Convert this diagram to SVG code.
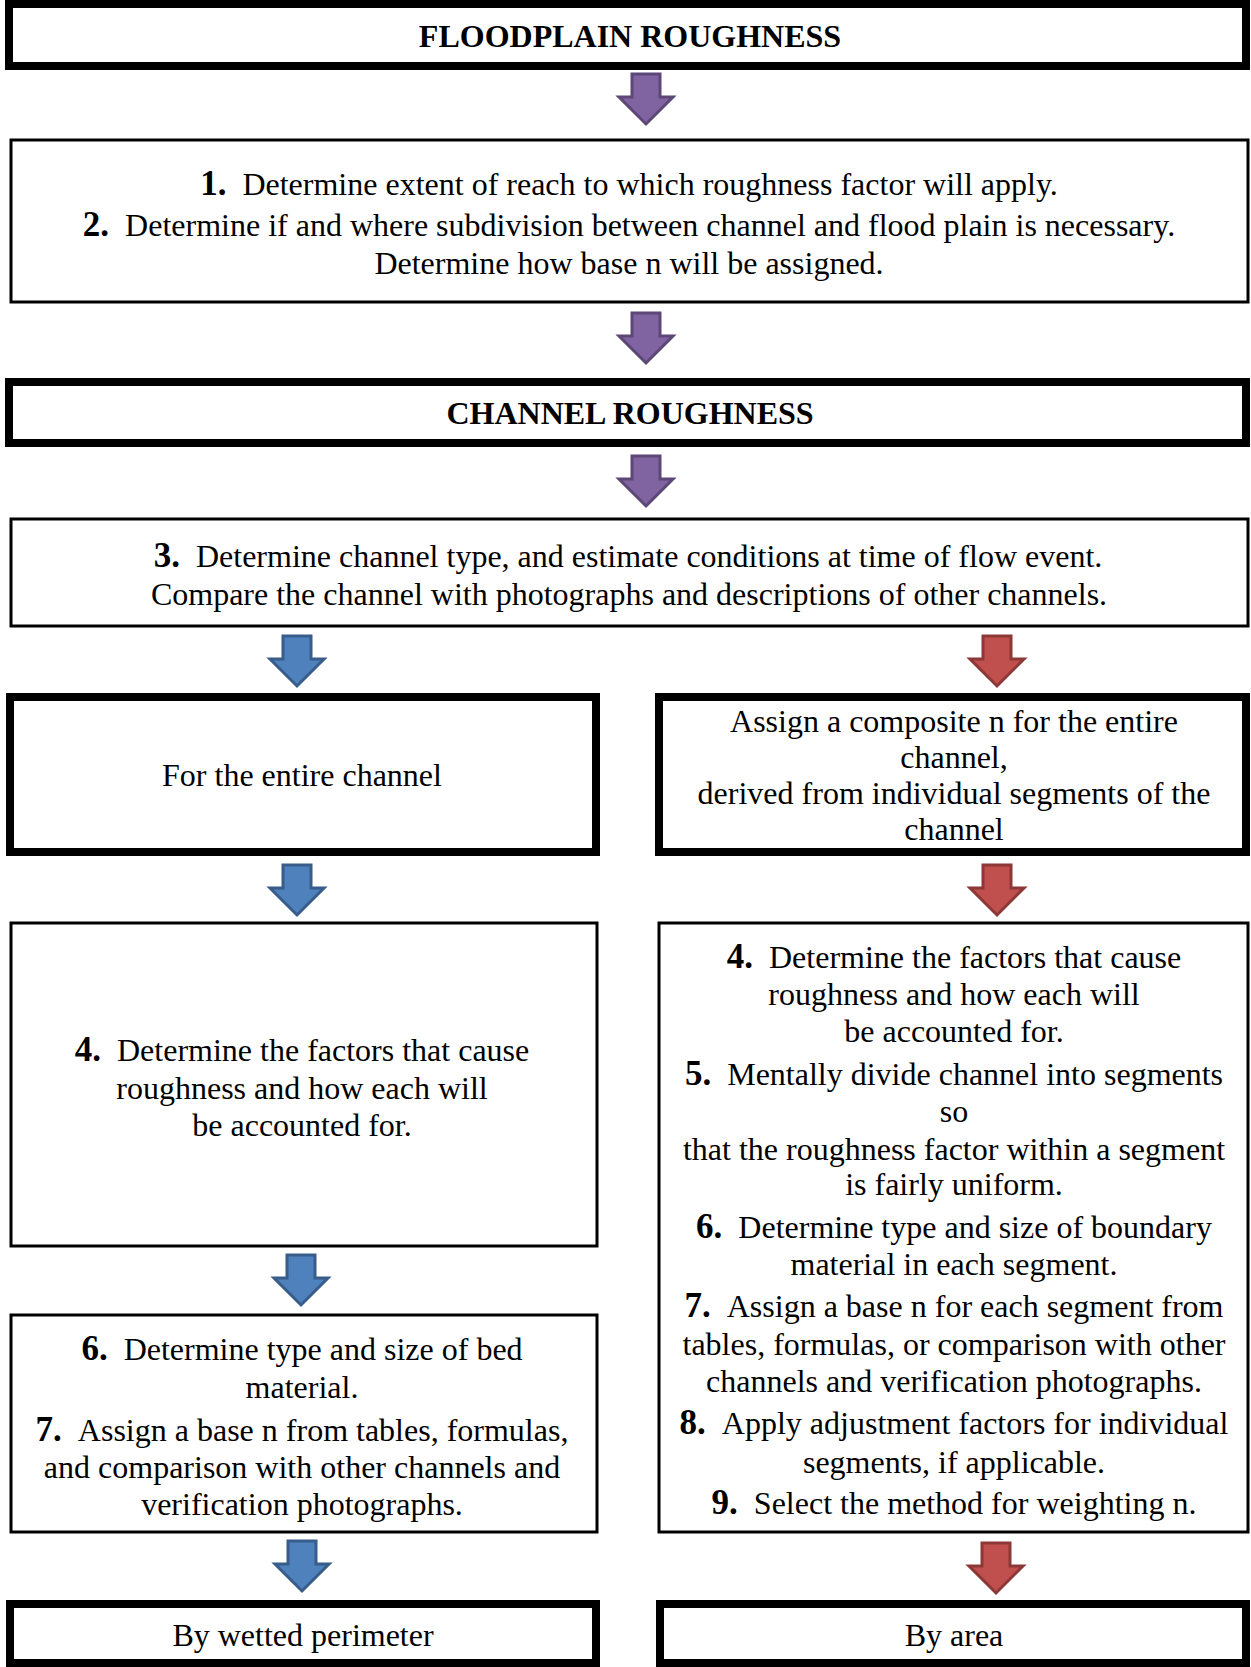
<svg xmlns="http://www.w3.org/2000/svg" width="1251" height="1667" viewBox="0 0 1251 1667">
<style>
  .thick { fill: #fff; stroke: #000; stroke-width: 8; }
  .thin { fill: #fff; stroke: #000; stroke-width: 3; }
  text { font-family: "Liberation Serif", "Times New Roman", serif; font-size: 32px; fill: #000; text-anchor: middle; }
  .hdr { font-weight: bold; }
  .n { font-weight: bold; font-size: 35px; }
  .purple { fill: #8064A2; stroke: #5C4776; stroke-width: 3; }
  .blue { fill: #4F81BD; stroke: #385D8A; stroke-width: 3; }
  .red { fill: #C0504D; stroke: #8C3836; stroke-width: 3; }
</style>
<defs>
  <path id="arr" d="M -14,0 L 14,0 L 14,23 L 27,23 L 0,50 L -27,23 L -14,23 Z"/>
</defs>
<rect width="1251" height="1667" fill="#fff"/>

<g id="connectors">
  <use href="#arr" class="purple" transform="translate(646,74)"/>
  <use href="#arr" class="purple" transform="translate(646,313)"/>
  <use href="#arr" class="purple" transform="translate(646,456)"/>
  <use href="#arr" class="blue" transform="translate(297,636)"/>
  <use href="#arr" class="red" transform="translate(997,636)"/>
  <use href="#arr" class="blue" transform="translate(297,865)"/>
  <use href="#arr" class="red" transform="translate(997,865)"/>
  <use href="#arr" class="blue" transform="translate(301,1255)"/>
  <use href="#arr" class="blue" transform="translate(302,1541)"/>
  <use href="#arr" class="red" transform="translate(996,1543)"/>
</g>

<g id="floodplain-roughness">
  <rect class="thick" x="9" y="4" width="1237" height="62"/>
  <text class="hdr" x="630" y="47">FLOODPLAIN ROUGHNESS</text>
</g>

<g id="steps-1-2">
  <rect class="thin" x="11" y="140" width="1237" height="162"/>
  <text x="629" y="195"><tspan class="n">1.</tspan><tspan dx="16">Determine extent of reach to which roughness factor will apply.</tspan></text>
  <text x="629" y="236"><tspan class="n">2.</tspan><tspan dx="16">Determine if and where subdivision between channel and flood plain is necessary.</tspan></text>
  <text x="629" y="274">Determine how base n will be assigned.</text>
</g>

<g id="channel-roughness">
  <rect class="thick" x="9" y="382" width="1237" height="61"/>
  <text class="hdr" x="630" y="424">CHANNEL ROUGHNESS</text>
</g>

<g id="step-3">
  <rect class="thin" x="11" y="519" width="1237" height="107"/>
  <text x="628" y="567"><tspan class="n">3.</tspan><tspan dx="16">Determine channel type, and estimate conditions at time of flow event.</tspan></text>
  <text x="629" y="605">Compare the channel with photographs and descriptions of other channels.</text>
</g>

<g id="entire-channel">
  <rect class="thick" x="10" y="697" width="586" height="155"/>
  <text x="302" y="786">For the entire channel</text>
</g>

<g id="composite-n">
  <rect class="thick" x="659" y="697" width="587" height="155"/>
  <text x="954" y="732">Assign a composite n for the entire</text>
  <text x="954" y="768">channel,</text>
  <text x="954" y="804">derived from individual segments of the</text>
  <text x="954" y="840">channel</text>
</g>

<g id="left-step-4">
  <rect class="thin" x="11" y="923" width="586" height="323"/>
  <text x="302" y="1061"><tspan class="n">4.</tspan><tspan dx="16">Determine the factors that cause</tspan></text>
  <text x="302" y="1099">roughness and how each will</text>
  <text x="302" y="1136">be accounted for.</text>
</g>

<g id="right-steps-4-9">
  <rect class="thin" x="659" y="923" width="589" height="609"/>
  <text x="954" y="968"><tspan class="n">4.</tspan><tspan dx="16">Determine the factors that cause</tspan></text>
  <text x="954" y="1005">roughness and how each will</text>
  <text x="954" y="1042">be accounted for.</text>
  <text x="954" y="1085"><tspan class="n">5.</tspan><tspan dx="16">Mentally divide channel into segments</tspan></text>
  <text x="954" y="1122">so</text>
  <text x="954" y="1160">that the roughness factor within a segment</text>
  <text x="954" y="1195">is fairly uniform.</text>
  <text x="954" y="1238"><tspan class="n">6.</tspan><tspan dx="16">Determine type and size of boundary</tspan></text>
  <text x="954" y="1275">material in each segment.</text>
  <text x="954" y="1317"><tspan class="n">7.</tspan><tspan dx="16">Assign a base n for each segment from</tspan></text>
  <text x="954" y="1355">tables, formulas, or comparison with other</text>
  <text x="954" y="1392">channels and verification photographs.</text>
  <text x="954" y="1434"><tspan class="n">8.</tspan><tspan dx="16">Apply adjustment factors for individual</tspan></text>
  <text x="954" y="1473">segments, if applicable.</text>
  <text x="954" y="1514"><tspan class="n">9.</tspan><tspan dx="16">Select the method for weighting n.</tspan></text>
</g>

<g id="left-steps-6-7">
  <rect class="thin" x="11" y="1315" width="586" height="217"/>
  <text x="302" y="1360"><tspan class="n">6.</tspan><tspan dx="16">Determine type and size of bed</tspan></text>
  <text x="302" y="1398">material.</text>
  <text x="302" y="1441"><tspan class="n">7.</tspan><tspan dx="16">Assign a base n from tables, formulas,</tspan></text>
  <text x="302" y="1478">and comparison with other channels and</text>
  <text x="302" y="1515">verification photographs.</text>
</g>

<g id="by-wetted-perimeter">
  <rect class="thick" x="10" y="1604" width="586" height="59"/>
  <text x="303" y="1646">By wetted perimeter</text>
</g>

<g id="by-area">
  <rect class="thick" x="660" y="1604" width="586" height="59"/>
  <text x="954" y="1646">By area</text>
</g>
</svg>
